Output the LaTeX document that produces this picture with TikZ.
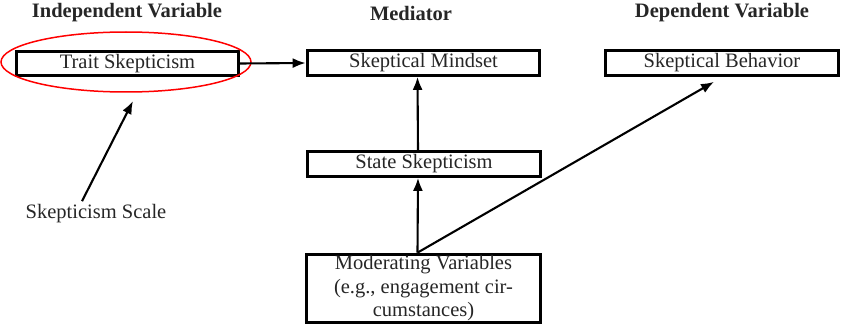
\documentclass[tikz,border=0pt]{standalone}
\usepackage{fontspec}
\setmainfont{Liberation Serif}
\usetikzlibrary{arrows.meta}

\begin{document}
\begin{tikzpicture}[x=1pt, y=-1pt,
    box/.style={draw, line width=3.2pt, inner sep=0pt, minimum height=24.5pt},
    head/.style={font=\fontsize{20.5}{24}\selectfont\bfseries},
    arrow/.style={line width=2.1pt, -{Latex[length=13pt, width=10pt]}},
    every node/.style={font=\fontsize{20.5}{24}\selectfont, text=black!85}];

    \useasboundingbox (0,0) rectangle (844,329);

    % column titles
    \node[head] (indep) at (127,13) {Independent Variable};
    \node[head] (medtitle) at (411,13) {Mediator};
    \node[head] (dep) at (722,13) {Dependent Variable};

    % boxes
    \node[box, minimum width=221.5pt] (trait) at (127.5,63.5) {Trait Skepticism};
    \node[box, minimum width=232.5pt] (mindset) at (423.5,63) {Skeptical Mindset};
    \node[box, minimum width=232.5pt] (behavior) at (722,63) {Skeptical Behavior};
    \node[box, minimum width=232.5pt] (state) at (424,164) {State Skepticism};
    \node[box, minimum width=233.5pt, minimum height=68.5pt, align=center,
        font=\fontsize{20.5}{23.5}\selectfont] (moder) at (423.5,288.5)
        {Moderating Variables\\(e.g., engagement cir-\\cumstances)};

    \node (scale) at (96,214) {Skepticism Scale};

    % highlight
    \draw[red, line width=1.5pt] (126,62) ellipse [x radius=125, y radius=30];
    \coordinate (ovalpt) at (133,101);

    % arrows
    \draw[arrow] (trait.east) -- (mindset.west);
    \draw[arrow] ([xshift=-6pt]state.north) -- ([xshift=-6pt]mindset.south);
    \draw[arrow] ([xshift=-6pt]moder.north) -- ([xshift=-6pt]state.south);
    \draw[arrow] ([xshift=-6pt]moder.north) -- ([xshift=-8pt, yshift=-5pt]behavior.south);
    \draw[arrow] ([xshift=-14pt]scale.north) -- (ovalpt);
\end{tikzpicture}
\end{document}
